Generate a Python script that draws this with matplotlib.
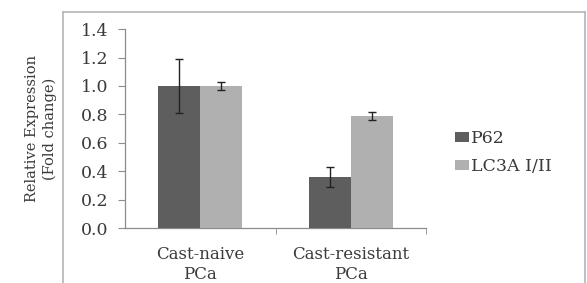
import matplotlib
matplotlib.use('Agg')
import matplotlib.pyplot as plt
import numpy as np
from matplotlib.lines import Line2D

categories = ['Cast-naive\nPCa', 'Cast-resistant\nPCa']
series = ['P62', 'LC3A I/II']
p62 = [1.00, 0.36]
p62_err = [0.19, 0.07]
lc3a = [1.00, 0.79]
lc3a_err = [0.03, 0.03]
yticks = [0.0, 0.2, 0.4, 0.6, 0.8, 1.0, 1.2, 1.4]

plt.rcParams['font.family'] = ['DejaVu Serif']
txt = '#3a3a3a'
spine = '#8c8c8c'

fig = plt.figure(figsize=(5.87, 2.83), dpi=100)
ax = fig.add_axes([0.213, 0.194, 0.513, 0.703])

x = np.arange(len(categories))
w = 0.28
ekw = dict(ecolor='#222222', elinewidth=1.0, capsize=3, capthick=1.0)
ax.bar(x - w / 2, p62, w, yerr=p62_err, color='#5e5e5e', label=series[0], error_kw=ekw, zorder=3)
ax.bar(x + w / 2, lc3a, w, yerr=lc3a_err, color='#b0b0b0', label=series[1], error_kw=ekw, zorder=3)

ax.set_xlim(-0.5, 1.5)
ax.set_ylim(0, 1.4)
ax.set_yticks(yticks)
ax.set_yticklabels([f'{t:.1f}' for t in yticks], fontsize=12.5, color=txt)
ax.set_xticks(x)
ax.set_xticklabels(categories, fontsize=12, color=txt, linespacing=1.2)
ax.tick_params(axis='x', length=0, pad=13)
ax.set_xticks([0.5, 1.5], minor=True)
ax.tick_params(axis='x', which='minor', length=4, color=spine, direction='out')
ax.tick_params(axis='y', length=5, color=spine, width=0.8, pad=7)
for s in ['top', 'right']:
    ax.spines[s].set_visible(False)
for s in ['left', 'bottom']:
    ax.spines[s].set_color(spine)
    ax.spines[s].set_linewidth(0.9)

ax.set_ylabel('Relative Expression\n(Fold change)', fontsize=10.5, color=txt, linespacing=1.35)
ax.yaxis.set_label_coords(-0.226, 0.5)

leg = fig.legend(loc='center left', bbox_to_anchor=(0.748, 0.46), frameon=False,
                 fontsize=12.5, handlelength=0.8, handleheight=0.5, handletextpad=0.15,
                 labelspacing=0.65, labelcolor=txt)

# outer frame (left, top, right)
fc = '#b5b5b5'
fig.add_artist(Line2D([0.107, 0.107], [0.0, 0.958], color=fc, lw=1.2, transform=fig.transFigure))
fig.add_artist(Line2D([0.107, 0.997], [0.958, 0.958], color=fc, lw=1.2, transform=fig.transFigure))
fig.add_artist(Line2D([0.997, 0.997], [0.0, 0.958], color=fc, lw=1.2, transform=fig.transFigure))

fig.savefig('out.png', dpi=100)
